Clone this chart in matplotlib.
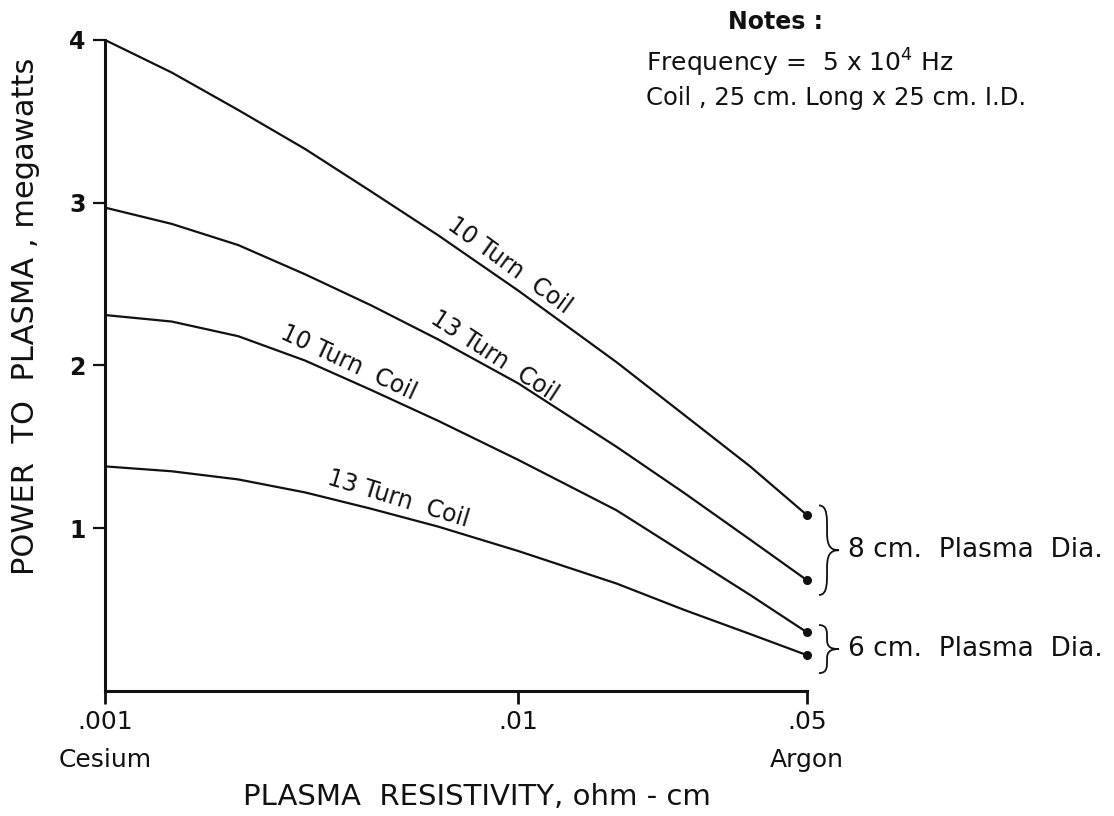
"""Power delivered to the plasma vs. plasma resistivity for two coil windings."""
import matplotlib
matplotlib.use('Agg')
import matplotlib.pyplot as plt
import matplotlib.ticker as mticker
import matplotlib.transforms as mtransforms
from matplotlib.path import Path
from matplotlib.patches import PathPatch

#----------------------------------------
# Curve data (resistivity in ohm-cm, power in megawatts)
resistivity = [0.001, 0.00145, 0.0021, 0.00305, 0.0044, 0.0064,
               0.01, 0.0173, 0.0251, 0.0364, 0.05]

power_8cm_10turn = [4.00, 3.80, 3.57, 3.33, 3.07, 2.80,
                    2.46, 2.02, 1.70, 1.38, 1.08]
power_8cm_13turn = [2.97, 2.87, 2.74, 2.56, 2.37, 2.16,
                    1.89, 1.50, 1.22, 0.93, 0.68]
power_6cm_10turn = [2.31, 2.27, 2.18, 2.03, 1.85, 1.66,
                    1.42, 1.11, 0.85, 0.59, 0.36]
power_6cm_13turn = [1.38, 1.35, 1.30, 1.22, 1.12, 1.01,
                    0.86, 0.66, 0.50, 0.35, 0.22]

curves = [power_8cm_10turn, power_8cm_13turn,
          power_6cm_10turn, power_6cm_13turn]
curve_labels = ['10 Turn  Coil', '13 Turn  Coil',
                '10 Turn  Coil', '13 Turn  Coil']
# point on each curve where its label sits, and the text angle
label_pos = [(0.00929, 2.52), (0.00855, 1.96), (0.00381, 1.92), (0.00506, 1.08)]
label_rot = [-36, -33, -25, -17]

x_ticks = [0.001, 0.01, 0.05]
x_tick_labels = ['.001', '.01', '.05']
x_materials = ['Cesium', '', 'Argon']
y_ticks = [1, 2, 3, 4]

group_labels = ['8 cm.  Plasma  Dia.', '6 cm.  Plasma  Dia.']
group_spans = [(0.59, 1.14), (0.11, 0.405)]

INK = '#111111'


def draw_brace(ax, x0, y_lo, y_hi, width, tip):
  """Draws a '}' brace, x in axes fraction and y in data units."""
  trans = mtransforms.blended_transform_factory(ax.transAxes, ax.transData)
  h = y_hi - y_lo
  def p(u, t):
    return (x0 + u * width, y_hi - t * h)
  verts = [p(0, 0),
           p(0.55, 0), p(0.5, 0.15), p(0.5, 0.3),
           p(0.5, 0.45), p(0.7, 0.5), p(tip, 0.5),
           p(0.7, 0.5), p(0.5, 0.55), p(0.5, 0.7),
           p(0.5, 0.85), p(0.55, 1.0), p(0, 1.0)]
  codes = [Path.MOVETO] + [Path.CURVE4] * 12
  ax.add_patch(PathPatch(Path(verts, codes), fill=False, lw=1.3,
                         edgecolor=INK, transform=trans, clip_on=False))


fig = plt.figure(figsize=(11.14, 8.16), dpi=100)
ax = fig.add_axes([0.0943, 0.1532, 0.6302, 0.7978])

for values in curves:
  ax.plot(resistivity, values, color=INK, lw=1.6, solid_capstyle='round',
          solid_joinstyle='round')
  ax.plot(resistivity[-1], values[-1], 'o', color=INK, ms=5.5, clip_on=False)

# labels ride just above their curve
label_trans = mtransforms.offset_copy(ax.transData, fig=fig, x=0, y=7,
                                      units='points')
for text, (xp, yp), rot in zip(curve_labels, label_pos, label_rot):
  ax.text(xp, yp, text, rotation=rot, rotation_mode='anchor',
          ha='center', va='baseline', fontsize=17, color=INK,
          transform=label_trans)

ax.set_xscale('log')
ax.set_xlim(0.001, 0.05)
ax.set_ylim(0, 4)

ax.spines['top'].set_visible(False)
ax.spines['right'].set_visible(False)
for side in ('left', 'bottom'):
  ax.spines[side].set_linewidth(2.2)
  ax.spines[side].set_color(INK)

ax.set_xticks(x_ticks)
ax.set_xticklabels(x_tick_labels)
ax.xaxis.set_minor_locator(mticker.NullLocator())
ax.set_yticks(y_ticks)
ax.set_yticklabels([str(v) for v in y_ticks], fontweight='bold')
ax.tick_params(axis='x', direction='out', length=9, width=2, pad=5,
               labelsize=18, colors=INK)
ax.tick_params(axis='y', direction='out', length=9, width=1.6, pad=5,
               labelsize=17, colors=INK)

# second line under the tick values
xtrans = mtransforms.blended_transform_factory(ax.transData, ax.transAxes)
for xv, name in zip(x_ticks, x_materials):
  if name:
    ax.text(xv, -0.106, name, transform=xtrans, ha='center', va='center',
            fontsize=18, color=INK)

ax.text(0.53, -0.163, 'PLASMA  RESISTIVITY, ohm - cm', transform=ax.transAxes,
        ha='center', va='center', fontsize=21, color=INK)
ax.text(-0.114, 0.576, 'POWER  TO  PLASMA , megawatts', transform=ax.transAxes,
        rotation=90, ha='center', va='center', fontsize=22, color=INK)

# plasma diameter groups on the right
ytrans = mtransforms.blended_transform_factory(ax.transAxes, ax.transData)
for text, (lo, hi) in zip(group_labels, group_spans):
  draw_brace(ax, 1.017, lo, hi, 0.0228, 1.25)
  ax.text(1.058, (lo + hi) / 2, text, transform=ytrans, ha='left',
          va='center', fontsize=19, color=INK)

# notes block
fig.text(728 / 1114, 1 - 22 / 816, 'Notes :', ha='left', va='center',
         fontsize=17, fontweight='bold', color=INK)
fig.text(646 / 1114, 1 - 63 / 816, 'Frequency =  5 x 10$^4$ Hz', ha='left',
         va='center', fontsize=18, color=INK)
fig.text(646 / 1114, 1 - 98 / 816, 'Coil , 25 cm. Long x 25 cm. I.D.',
         ha='left', va='center', fontsize=17.5, color=INK)

fig.savefig('out.png', dpi=100)
